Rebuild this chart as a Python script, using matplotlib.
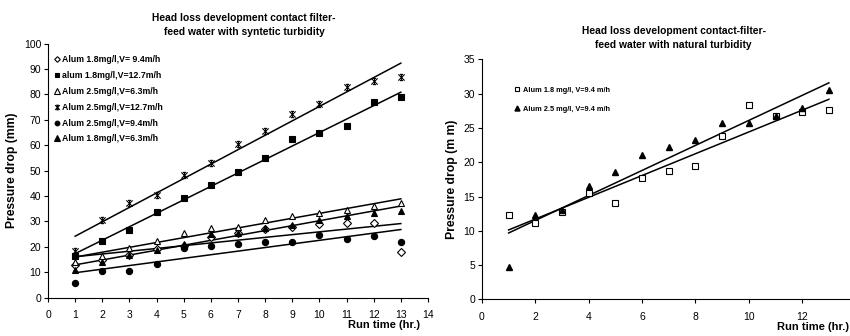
import numpy as np
import matplotlib
matplotlib.use('Agg')
import matplotlib.pyplot as plt
from matplotlib.path import Path

plt.rcParams['font.family'] = ['Liberation Sans', 'DejaVu Sans']

'''
Data read off the reference
'''
run_time = np.arange(1, 14)

# synthetic turbidity (left panel)
alum18_v94 = [13, 15, 17, 19, 20.5, 24, 25.5, 27, 28, 29, 29.3, 29.3, 17.9]
alum18_v127 = [16.5, 22.4, 26.7, 33.6, 39.4, 44.2, 49.6, 55.0, 62.3, 65.0, 67.7, 77.2, 79.0]
alum25_v63 = [14.2, 16.4, 19.4, 22.3, 25.4, 27.3, 28.0, 30.6, 32.0, 33.4, 34.7, 36.1, 37.2]
alum25_v127 = [18.5, 30.6, 37.2, 40.4, 48.3, 53.1, 60.5, 65.6, 72.3, 76.1, 82.8, 85.3, 86.8]
alum25_v94 = [5.7, 10.5, 10.5, 13.1, 19.4, 20.2, 21.1, 22.0, 22.0, 24.5, 23.0, 24.3, 22.0]
alum18_v63 = [10.9, 14.2, 16.8, 18.8, 21.0, 25.0, 25.4, 27.3, 28.6, 30.6, 32.3, 33.4, 34.3]

left_labels = ['Alum 1.8mg/l,V= 9.4m/h', 'alum 1.8mg/l,V=12.7m/h', 'Alum 2.5mg/l,V=6.3m/h',
               'Alum 2.5mg/l,V=12.7m/h', 'Alum 2.5mg/l,V=9.4m/h', 'Alum 1.8mg/l,V=6.3m/h']

# natural turbidity (right panel)
nat_alum18 = [12.3, 11.2, 12.7, 15.5, 14.0, 17.7, 18.8, 19.5, 23.8, 28.3, 26.8, 27.3, 27.7]
nat_alum25 = [4.7, 12.3, 13.1, 16.5, 18.6, 21.0, 22.2, 23.2, 25.7, 25.7, 26.8, 27.9, 30.6]
right_labels = ['Alum 1.8 mg/l, V=9.4 m/h', 'Alum 2.5 mg/l, V=9.4 m/h']

# excel style star marker
star = Path([(-1, -1), (1, 1), (-1, 1), (1, -1), (0, -1), (0, 1),
             (-0.5, 1), (0.5, 1), (-0.5, -1), (0.5, -1)],
            [Path.MOVETO, Path.LINETO] * 5)

left_series = [alum18_v94, alum18_v127, alum25_v63, alum25_v127, alum25_v94, alum18_v63]
left_styles = [dict(marker='D', mfc='white', ms=3.8),
               dict(marker='s', mfc='black', ms=4.4),
               dict(marker='^', mfc='white', ms=5),
               dict(marker=star, mfc='none', ms=4.5),
               dict(marker='o', mfc='black', ms=4.5),
               dict(marker='^', mfc='black', ms=5)]

fig = plt.figure(figsize=(8.5, 3.36), dpi=100)
ax1 = fig.add_axes([0.0565, 0.114, 0.447, 0.756])
ax2 = fig.add_axes([0.567, 0.109, 0.4396, 0.714])

def trend(ax, y, x0=1, x1=13):
    k, b = np.polyfit(run_time, y, 1)
    xs = np.array([x0, x1])
    ax.plot(xs, k * xs + b, color='black', lw=1.1, zorder=2)

for y, st, lab in zip(left_series, left_styles, left_labels):
    ax1.plot(run_time, y, ls='none', mec='black', mew=0.8, label=lab, zorder=3, **st)
    trend(ax1, y)

ax1.set_xlim(0, 14)
ax1.set_ylim(0, 100)
ax1.set_xticks(range(0, 15))
ax1.set_yticks(range(0, 101, 10))
ax1.set_ylabel('Pressure drop (mm)', fontsize=8.7, fontweight='bold', labelpad=4)
ax1.set_title('Head loss development contact filter-\nfeed water with syntetic turbidity',
              fontsize=7.4, fontweight='bold', pad=6, x=0.516, linespacing=1.55)
fig.text(0.494, 0.034, 'Run time (hr.)', ha='right', va='center', fontsize=8, fontweight='bold')
ax1.legend(loc='upper left', bbox_to_anchor=(-0.005, 0.985), frameon=False,
           handlelength=0.6, handletextpad=0.3, labelspacing=0.78, markerscale=0.75,
           prop=dict(weight='bold', size=6.3))

ax2.plot(run_time, nat_alum18, ls='none', marker='s', mfc='white', mec='black', mew=0.8, ms=4.6,
         label=right_labels[0], zorder=3)
ax2.plot(run_time, nat_alum25, ls='none', marker='^', mfc='black', mec='black', ms=4.8,
         label=right_labels[1], zorder=3)
trend(ax2, nat_alum18)
trend(ax2, nat_alum25)

ax2.set_xlim(0, 14)
ax2.set_ylim(0, 35)
ax2.set_xticks(range(0, 15, 2))
ax2.set_yticks(range(0, 36, 5))
ax2.set_ylabel('Pressure drop (m m)', fontsize=8.8, fontweight='bold', labelpad=4)
ax2.set_title('Head loss development contact-filter-\nfeed water with natural turbidity',
              fontsize=7.4, fontweight='bold', pad=8, x=0.513, linespacing=1.55)
fig.text(0.999, 0.027, 'Run time (hr.)', ha='right', va='center', fontsize=8, fontweight='bold')
ax2.legend(loc='upper left', bbox_to_anchor=(0.07, 0.915), frameon=False,
           handlelength=0.6, handletextpad=0.5, labelspacing=1.6, markerscale=0.75,
           prop=dict(weight='bold', size=5.3))

for ax in (ax1, ax2):
    ax.spines['top'].set_visible(False)
    ax.spines['right'].set_visible(False)
    ax.tick_params(direction='out', length=3, width=0.8, labelsize=7.5, pad=6)
    ax.tick_params(axis='y', pad=2)

fig.savefig('out.png', dpi=100)
